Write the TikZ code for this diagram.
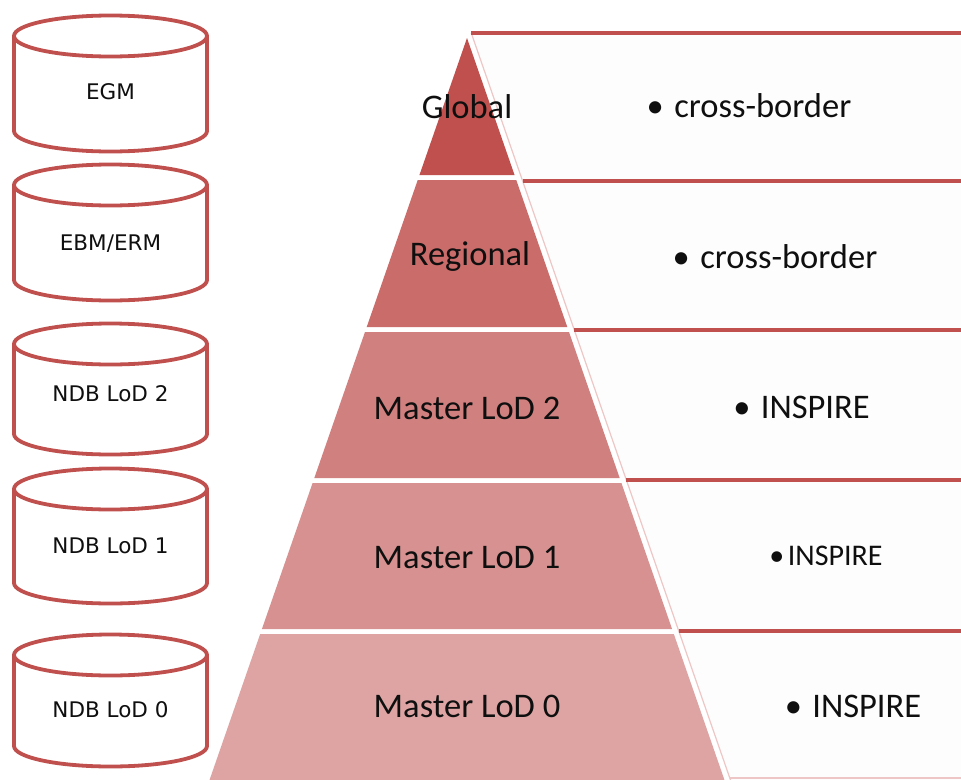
\documentclass[tikz,border=0pt]{standalone}
\usepackage{fontspec}
\setmainfont{Carlito}
\newfontfamily\dbfont{DejaVu Sans}
\definecolor{accent}{RGB}{192,80,77}
\definecolor{tierA}{RGB}{192,80,77}
\definecolor{tierB}{RGB}{201,108,106}
\definecolor{tierC}{RGB}{208,128,126}
\definecolor{tierD}{RGB}{214,145,144}
\definecolor{tierE}{RGB}{221,164,163}
\definecolor{boxfill}{RGB}{253,253,253}
\definecolor{paleedge}{RGB}{238,198,197}
\definecolor{ink}{RGB}{15,15,15}
\tikzset{
  cyl/.style={draw=accent, line width=3.8pt, fill=white},
  dblabel/.style={anchor=base, text=ink, inner sep=0pt, font=\dbfont\fontsize{21.5}{26}\selectfont},
  tierlabel/.style={anchor=base, text=ink, inner sep=0pt, font=\fontsize{34.5}{40}\selectfont},
  notelabel/.style={anchor=base, text=ink, inner sep=0pt, font=\fontsize{34.5}{40}\selectfont},
  smallnote/.style={anchor=base, text=ink, inner sep=0pt, font=\fontsize{30}{36}\selectfont},
  rule/.style={draw=accent, line width=3.5pt},
  slant/.style={draw=paleedge, line width=1.2pt},
}
\begin{document}
\begin{tikzpicture}[x=1pt,y=-1pt]
\useasboundingbox (0,0) rectangle (961,779);
\fill[white] (0,0) rectangle (961,779);

% description boxes to the right of the pyramid
\foreach \t/\b in {33/181, 181/330, 330/480, 480/631, 631/782}{
  \fill[boxfill] ({467+0.347*(\t-38)+6},\t) -- (965,\t) -- (965,\b) -- ({467+0.347*(\b-38)+6},\b) -- cycle;
  \draw[slant] ({467+0.347*(\t-38)+6},\t) -- ({467+0.347*(\b-38)+6},\b);
}
\foreach \y in {33,181,330,480,631}
  \draw[rule] ({467+0.347*(\y-38)+6},\y) -- (965,\y);
\draw[draw=paleedge, line width=2pt] ({467+0.347*(778-38)+6},778) -- (965,778);

% pyramid tiers
\foreach \t/\b/\c in {38/175/tierA, 180/327/tierB, 332/478/tierC, 483/629/tierD, 634/782/tierE}
  \fill[\c] ({467-0.347*(\t-38)},\t) -- ({467+0.347*(\t-38)},\t) -- ({467+0.347*(\b-38)},\b) -- ({467-0.347*(\b-38)},\b) -- cycle;

% databases
\foreach \n/\yt/\yb/\ty/\txt in {egm/36/131/99.5/EGM, ebm/185/280/250/EBM\slash ERM, ndbb/344/434/401.5/NDB LoD 2, ndba/489/583/553/NDB LoD 1, ndbz/655/746/717/NDB LoD 0}{
  \draw[cyl] (14,\yt) -- (14,\yb) arc[start angle=180, end angle=0, x radius=96.5, y radius=20.5] -- (207,\yt);
  \draw[cyl] (110.5,\yt) ellipse[x radius=96.5, y radius=20.5];
  \node[dblabel] (\n) at (110.5,\ty) {\txt};
}

% tier names
\node[tierlabel] (global)   at (467,118) {Global};
\node[tierlabel] (regional) at (470,265) {Regional};
\node[tierlabel] (lodb)     at (467,419) {Master LoD 2};
\node[tierlabel] (loda)     at (467,568) {Master LoD 1};
\node[tierlabel] (lodz)     at (467,717) {Master LoD 0};

% notes
\node[notelabel] (noteg) at (749,117) {•\hspace{0.3em}cross-border};
\node[notelabel] (noter) at (775,268) {•\hspace{0.3em}cross-border};
\node[notelabel] (noteb) at (801.5,418) {•\hspace{0.3em}INSPIRE};
\node[smallnote] (notea) at (826,565) {•\hspace{0.12em}INSPIRE};
\node[notelabel] (notez) at (853,717) {•\hspace{0.3em}INSPIRE};
\end{tikzpicture}
\end{document}
